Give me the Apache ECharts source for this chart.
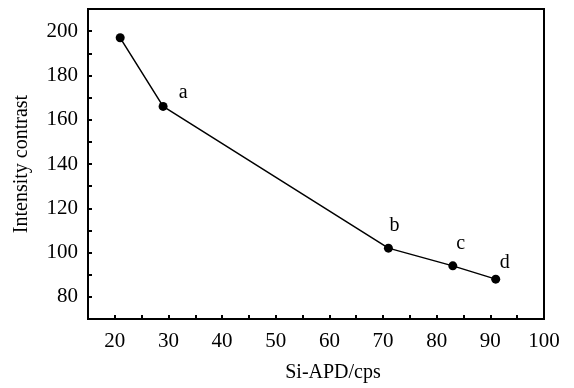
<!DOCTYPE html>
<html>
<head>
<meta charset="utf-8">
<script src="https://cdn.jsdelivr.net/npm/echarts@6/dist/echarts.min.js"></script>
<style>
  html, body { margin: 0; padding: 0; background: #fff; }
  #chart { width: 574px; height: 388px; }
</style>
</head>
<body>
<div id="chart"></div>
<script>
// data
const siApd = [21, 29, 71, 83, 91];
const contrast = [197, 166, 102, 94, 88];
const pointLabels = ["", "a", "b", "c", "d"];
const labelOffsets = [[0, 0], [20, -14], [6, -22], [8, -22], [9, -16]];

const font = "Liberation Serif";
const chart = echarts.init(document.getElementById("chart"));

const tickStyle = { color: "#000", width: 2 };

const option = {
  animation: false,
  grid: {
    left: 88, right: 30, top: 9, bottom: 67,
    show: true, borderColor: "#000", borderWidth: 2,
  },
  xAxis: {
    type: "value",
    min: 15, max: 100, interval: 5,
    name: "Si-APD/cps",
    nameLocation: "middle",
    nameGap: 44,
    nameTextStyle: { fontFamily: font, fontSize: 20, color: "#000", padding: [0, 0, 0, 34] },
    axisLine: { onZero: false, lineStyle: { color: "#000", width: 2 } },
    axisTick: { inside: true, length: 4, lineStyle: tickStyle },
    axisLabel: {
      fontFamily: font, fontSize: 21, color: "#000", margin: 12,
      formatter: v => (v % 10 === 0 ? v : ""),
    },
    splitLine: { show: false },
  },
  yAxis: {
    type: "value",
    min: 70, max: 210, interval: 10,
    name: "Intensity contrast",
    nameLocation: "middle",
    nameGap: 56,
    nameTextStyle: { fontFamily: font, fontSize: 20, color: "#000" },
    axisLine: { onZero: false, lineStyle: { color: "#000", width: 2 } },
    axisTick: { inside: true, length: 4, lineStyle: tickStyle },
    axisLabel: {
      fontFamily: font, fontSize: 21, color: "#000", margin: 10,
      formatter: v => (v % 20 === 0 && v < 210 ? v : ""),
    },
    splitLine: { show: false },
  },
  series: [
    {
      type: "line",
      data: siApd.map((x, i) => ({
        value: [x, contrast[i]],
        label: {
          show: pointLabels[i] !== "",
          formatter: pointLabels[i],
          position: "inside",
          offset: labelOffsets[i],
          fontFamily: font, fontSize: 20, color: "#000",
        },
      })),
      symbol: "circle",
      symbolSize: 9,
      lineStyle: { color: "#000", width: 1.5 },
      itemStyle: { color: "#000" },
    },
  ],
};

chart.setOption(option);
</script>
</body>
</html>
